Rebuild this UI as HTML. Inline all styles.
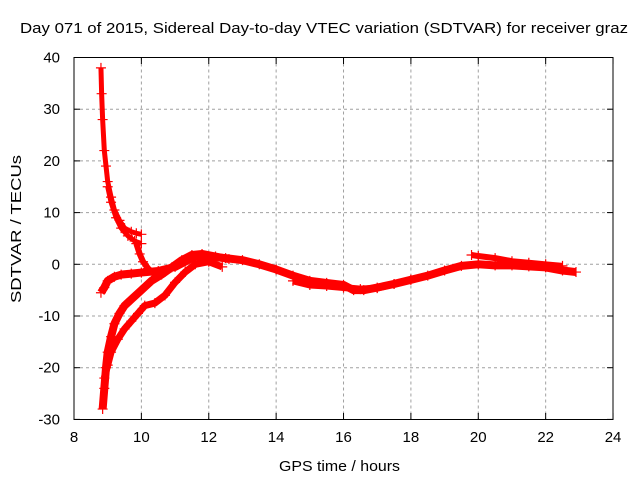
<!DOCTYPE html>
<html><head><meta charset="utf-8"><style>
body{margin:0;background:#fff}
svg text{font-family:"Liberation Sans",sans-serif;font-size:15px;fill:#000}
</style></head><body>
<svg width="640" height="480" viewBox="0 0 640 480">
<rect width="640" height="480" fill="#fff"/>
<g id="grid"></g>
<g id="series"></g>
<rect x="74" y="57.5" width="539" height="362" fill="none" stroke="#000" stroke-width="1"/>
<g id="ticks"></g>
<text x="20" y="33" textLength="608" lengthAdjust="spacingAndGlyphs">Day 071 of 2015, Sidereal Day-to-day VTEC variation (SDTVAR) for receiver graz</text>
<text x="279" y="471" textLength="121" lengthAdjust="spacingAndGlyphs">GPS time / hours</text>
<text transform="translate(21,303) rotate(-90)" textLength="148" lengthAdjust="spacingAndGlyphs">SDTVAR / TECUs</text>
</svg>
<script>
const xTicks=[8,10,12,14,16,18,20,22,24];
const yTicks=[40,30,20,10,0,-10,-20,-30];
const trackA_x=[8.8,8.82,8.85,8.9,8.95,9.0,9.1,9.2,9.35,9.5,9.7,9.85,10.0];
const trackA_y=[38,33,28,22,19,16,13,10.5,8.5,7,6.3,6,5.8];
const trackA2_x=[9.0,9.1,9.25,9.4,9.6,9.8,10.0];
const trackA2_y=[15,12,9,7,5.5,4.5,4];
const trackA3_x=[9.85,9.95,10.05,10.2,10.4,10.7];
const trackA3_y=[4,2,0.5,-0.8,-2,-1.5];
const trackB_x=[8.8,8.9,9.0,9.2,9.4,9.7,10.0,10.5,11.0,11.3,11.6,12.0,12.5,13.0,13.5,14.0,14.5,15.0,15.5,16.0,16.3,16.6,17.0,17.5,18.0,18.5,19.0,19.5,20.0,20.5,21.0,21.5,22.0,22.5,22.9];
const trackB_y=[-5.5,-4.5,-3.2,-2.4,-2,-1.8,-1.6,-1.3,-0.5,0.5,1.5,1.5,1.2,0.8,0,-1,-2.2,-3.2,-3.6,-4,-5,-5,-4.5,-3.8,-3,-2.2,-1.2,-0.3,0,-0.2,-0.2,-0.4,-0.6,-1.2,-1.5];
const trackB2_x=[14.5,15.0,15.5,16.0,16.5,17.0,17.5,18.0];
const trackB2_y=[-3.2,-4,-4.2,-4.5,-4.8,-4.6,-3.8,-3];
const trackC_x=[8.85,8.9,8.95,9.0,9.1,9.2,9.35,9.5,9.7,10.0,10.3,10.6,10.9,11.2,11.5,11.8,12.2,12.6];
const trackC_y=[-28,-24,-20,-17,-14,-11.5,-9.5,-8,-6.8,-5,-3.2,-2,-0.6,0.8,1.8,2,1.5,1];
const trackD_x=[8.9,9.0,9.1,9.3,9.5,9.7,9.9,10.1,10.4,10.7,11.0,11.3,11.6,12.0,12.4];
const trackD_y=[-22,-19.5,-17,-14.5,-12.5,-11,-9.5,-8,-7.5,-6,-3.5,-1.5,0,0.5,-0.5];
const trackE_x=[19.8,20.0,20.5,21.0,21.5,22.0,22.5];
const trackE_y=[1.8,1.6,1.2,0.6,0.3,0,-0.3];
const xs=v=>74+(v-8)*33.69;
const ys=v=>264.3-v*5.17;
const NS='http://www.w3.org/2000/svg';
const grid=document.getElementById('grid'),ticks=document.getElementById('ticks'),ser=document.getElementById('series');
function mk(t,a,p){const e=document.createElementNS(NS,t);for(const k in a)e.setAttribute(k,a[k]);p.appendChild(e);return e;}
xTicks.forEach(v=>{const X=xs(v);
 if(v>8&&v<24){const g=mk('line',{x1:X,x2:X,y1:57.5,y2:419.5,stroke:'#a0a0a0','stroke-dasharray':'3,3'},grid);
 
 }
 mk('line',{x1:X,x2:X,y1:419.5,y2:413,stroke:'#000'},ticks);mk('line',{x1:X,x2:X,y1:57.5,y2:64,stroke:'#000'},ticks);
 const t=mk('text',{x:X,y:442,'text-anchor':'middle'},ticks);t.textContent=v;
 
 });
yTicks.forEach(v=>{const Y=ys(v);
 if(v<40&&v>-30){const g=mk('line',{x1:74,x2:613,y1:Y,y2:Y,stroke:'#a0a0a0','stroke-dasharray':'3,3'},grid);
 
 }
 mk('line',{x1:74,x2:80,y1:Y,y2:Y,stroke:'#000'},ticks);mk('line',{x1:607,x2:613,y1:Y,y2:Y,stroke:'#000'},ticks);
 const t=mk('text',{x:60,y:Y+5,'text-anchor':'end'},ticks);t.textContent=v;
 
 });
[[trackA_x,trackA_y,5],[trackA2_x,trackA2_y,5],[trackA3_x,trackA3_y,6],[trackB_x,trackB_y,8],[trackB2_x,trackB2_y,7],[trackC_x,trackC_y,8],[trackD_x,trackD_y,7],[trackE_x,trackE_y,6]].forEach((s,i)=>{
 const [X,Y,w]=s;
 const pts=X.map((x,j)=>xs(x)+','+ys(Y[j])).join(' ');
 const pl=mk('polyline',{points:pts,fill:'none',stroke:'#f00','stroke-width':w,'stroke-linejoin':'round'},ser);
 
 
 X.forEach((x,j)=>{const cx=xs(x),cy=ys(Y[j]);
  const m=mk('path',{d:`M${cx-5},${cy}h10M${cx},${cy-5}v10`,stroke:'#f00','stroke-width':1.2},ser);
  
  });
});
</script>
</body></html>
